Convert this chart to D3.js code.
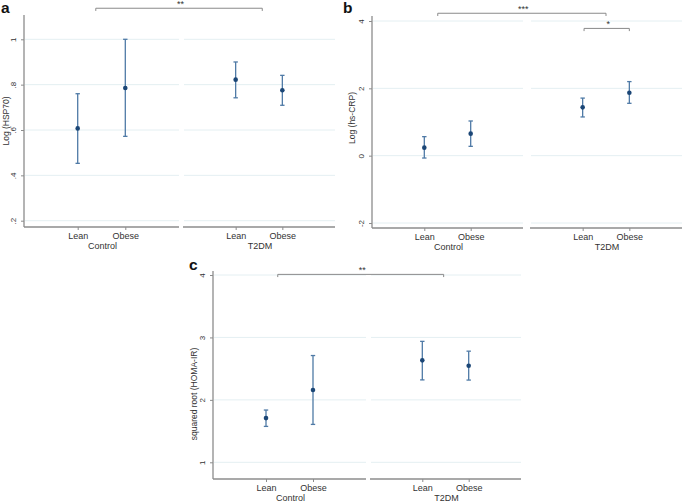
<!DOCTYPE html>
<html>
<head>
<meta charset="utf-8">
<script src="https://cdn.jsdelivr.net/npm/d3@7"></script>
<style>
  html, body { margin: 0; padding: 0; background: #fff; }
  svg { display: block; font-family: "Liberation Sans", Arial, sans-serif; }
</style>
</head>
<body>
<svg id="chart" width="684" height="502"></svg>
<script>
// ---------- DATA ----------
const categories = ["Lean", "Obese"];
const groups = ["Control", "T2DM"];

// order: Control-Lean, Control-Obese, T2DM-Lean, T2DM-Obese
const hsp70Mean = [0.607, 0.785, 0.822, 0.775];
const hsp70Lo   = [0.453, 0.572, 0.742, 0.709];
const hsp70Hi   = [0.760, 1.000, 0.900, 0.841];
const hsp70Ticks = [0.2, 0.4, 0.6, 0.8, 1];
const hsp70TickLabels = [".2", ".4", ".6", ".8", "1"];

const crpMean = [0.238, 0.654, 1.435, 1.870];
const crpLo   = [-0.070, 0.277, 1.150, 1.555];
const crpHi   = [0.565, 1.030, 1.710, 2.200];
const crpTicks = [-2, 0, 2, 4];
const crpTickLabels = ["-2", "0", "2", "4"];

const homaMean = [1.708, 2.157, 2.633, 2.547];
const homaLo   = [1.575, 1.607, 2.320, 2.317];
const homaHi   = [1.837, 2.710, 2.937, 2.780];
const homaTicks = [1, 2, 3, 4];
const homaTickLabels = ["1", "2", "3", "4"];

// significance brackets: [group, fraction between Lean(0) and Obese(1)], y value, label
const hsp70Brackets = [{ from: ["Control", 0.38], to: ["T2DM", 0.57], y: 1.137, label: "**" }];
const crpBrackets = [
  { from: ["Control", 0.29], to: ["T2DM", 0.50], y: 4.23, label: "***" },
  { from: ["T2DM", 0.03], to: ["T2DM", 1.0], y: 3.78, label: "*" }
];
const homaBrackets = [{ from: ["Control", 0.25], to: ["T2DM", 0.46], y: 4.01, label: "**" }];

// ---------- LAYOUT ----------
const panels = [
  { letter: "a", lx: 1, ly: 12.7, title: "Log (HSP70)", titleX: 6, titleY: 121,
    axisX: 24, facets: [[24, 179], [183, 335]], axisTop: 15, axisBottom: 227,
    domain: [0.2, 1], range: [220.7, 39.3],
    mean: hsp70Mean, lo: hsp70Lo, hi: hsp70Hi, ticks: hsp70Ticks, tickLabels: hsp70TickLabels,
    brackets: hsp70Brackets },
  { letter: "b", lx: 343, ly: 13.3, title: "Log (hs-CRP)", titleX: 352, titleY: 118,
    axisX: 372, facets: [[372, 523], [530, 682]], axisTop: 16, axisBottom: 228,
    domain: [-2, 4], range: [223, 21],
    mean: crpMean, lo: crpLo, hi: crpHi, ticks: crpTicks, tickLabels: crpTickLabels,
    brackets: crpBrackets },
  { letter: "c", lx: 189, ly: 270, title: "squared root (HOMA-IR)", titleX: 194, titleY: 394,
    axisX: 213, facets: [[213, 366], [370, 521]], axisTop: 271, axisBottom: 479,
    domain: [1, 4], range: [462.3, 275],
    mean: homaMean, lo: homaLo, hi: homaHi, ticks: homaTicks, tickLabels: homaTickLabels,
    brackets: homaBrackets }
];

const axisColor = "#8c8c8c";
const gridColor = "#e4eff2";
const barColor = "#4f7aa6";
const pointColor = "#1b4676";

const svg = d3.select("#chart");

panels.forEach(p => {
  const g = svg.append("g");
  const y = d3.scaleLinear().domain(p.domain).range(p.range);
  const xs = p.facets.map(f => d3.scalePoint().domain(categories).range(f).padding(1.128));
  const gx = (grp, frac) => {
    const s = xs[groups.indexOf(grp)];
    return s("Lean") + frac * (s("Obese") - s("Lean"));
  };

  // gridlines per facet
  p.facets.forEach(f => {
    g.append("g").selectAll("line").data(p.ticks).join("line")
      .attr("x1", f[0] + 1).attr("x2", f[1])
      .attr("y1", d => y(d)).attr("y2", d => y(d))
      .attr("stroke", gridColor).attr("stroke-width", 1);
  });

  // y axis
  const yAxis = d3.axisLeft(y).tickValues(p.ticks)
    .tickFormat((d, i) => p.tickLabels[i]).tickSize(3).tickPadding(0);
  const ya = g.append("g").attr("transform", `translate(${p.axisX},0)`).call(yAxis);
  ya.select(".domain").remove();
  ya.selectAll(".tick line").attr("stroke", axisColor);
  ya.selectAll(".tick text")
    .attr("transform", null)
    .attr("x", 0).attr("dy", null)
    .each(function (d) {
      d3.select(this)
        .attr("transform", `translate(-10.5,${0}) rotate(-90)`)
        .attr("x", 0).attr("y", 0)
        .attr("text-anchor", "middle")
        .attr("dy", "0.35em");
    })
    .attr("font-size", 8).attr("fill", "#333").attr("font-family", "Liberation Sans, Arial, sans-serif");
  g.append("line")
    .attr("x1", p.axisX).attr("x2", p.axisX)
    .attr("y1", p.axisTop).attr("y2", p.axisBottom)
    .attr("stroke", axisColor).attr("stroke-width", 1.3);

  // x axes per facet
  p.facets.forEach((f, gi) => {
    const xa = g.append("g").attr("transform", `translate(0,${p.axisBottom})`)
      .call(d3.axisBottom(xs[gi]).tickSize(3).tickPadding(2.5));
    xa.select(".domain").remove();
    xa.selectAll(".tick line").attr("stroke", axisColor);
    xa.selectAll(".tick text").attr("font-size", 9).attr("fill", "#333")
      .attr("font-family", "Liberation Sans, Arial, sans-serif");
    g.append("line")
      .attr("x1", f[0]).attr("x2", f[1])
      .attr("y1", p.axisBottom).attr("y2", p.axisBottom)
      .attr("stroke", axisColor).attr("stroke-width", 1.3);
    g.append("text")
      .attr("x", (xs[gi]("Lean") + xs[gi]("Obese")) / 2 + 1)
      .attr("y", p.axisBottom + 22.3)
      .attr("text-anchor", "middle").attr("font-size", 9).attr("fill", "#333")
      .text(groups[gi]);
  });

  // y title
  g.append("text")
    .attr("transform", `translate(${p.titleX},${p.titleY}) rotate(-90)`)
    .attr("text-anchor", "middle").attr("dy", "0.35em")
    .attr("font-size", 8.5).attr("fill", "#333")
    .text(p.title);

  // panel letter
  g.append("text").attr("x", p.lx).attr("y", p.ly)
    .attr("font-size", 15.5).attr("font-weight", "bold").attr("fill", "#111")
    .text(p.letter);

  // error bars + points
  const rows = [];
  groups.forEach((grp, gi) => categories.forEach((cat, ci) => {
    const k = gi * 2 + ci;
    rows.push({ x: xs[gi](cat), m: p.mean[k], lo: p.lo[k], hi: p.hi[k] });
  }));
  const eb = g.append("g").attr("stroke", barColor).attr("stroke-width", 1.3).attr("fill", "none");
  rows.forEach(r => {
    eb.append("line").attr("x1", r.x).attr("x2", r.x).attr("y1", y(r.hi)).attr("y2", y(r.lo));
    eb.append("line").attr("x1", r.x - 2.2).attr("x2", r.x + 2.2).attr("y1", y(r.hi)).attr("y2", y(r.hi));
    eb.append("line").attr("x1", r.x - 2.2).attr("x2", r.x + 2.2).attr("y1", y(r.lo)).attr("y2", y(r.lo));
  });
  g.append("g").selectAll("circle").data(rows).join("circle")
    .attr("cx", d => d.x).attr("cy", d => y(d.m)).attr("r", 2.3)
    .attr("fill", pointColor);

  // brackets
  p.brackets.forEach(b => {
    const x1 = gx(b.from[0], b.from[1]);
    const x2 = gx(b.to[0], b.to[1]);
    const yy = y(b.y);
    g.append("path")
      .attr("d", `M${x1},${yy + 2.7}V${yy}H${x2}V${yy + 2.7}`)
      .attr("fill", "none").attr("stroke", "#8a8a8a").attr("stroke-width", 1);
    g.append("text").attr("x", (x1 + x2) / 2 + 1.5).attr("y", yy - 1.2)
      .attr("text-anchor", "middle").attr("font-size", 9).attr("fill", "#333")
      .text(b.label);
  });
});
</script>
</body>
</html>
